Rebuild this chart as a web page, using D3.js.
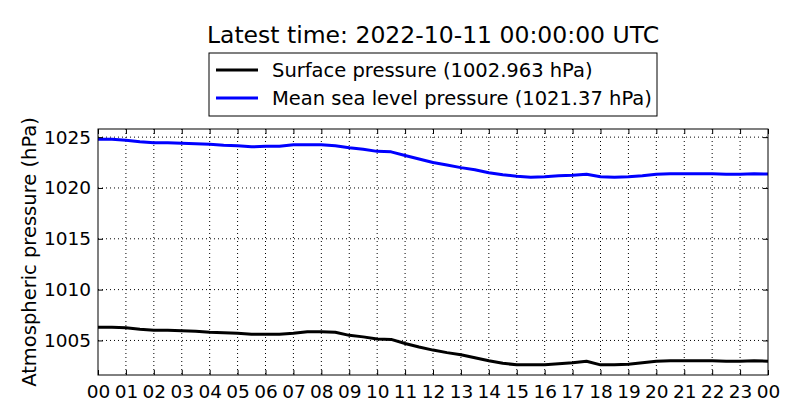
<!DOCTYPE html>
<html lang="en">
<head>
    <meta charset="UTF-8">
    <title>Atmospheric pressure</title>
    <script src="https://d3js.org/d3.v7.min.js"></script>
    <style>
        body { margin: 0; background: #fff; }
        svg text { font-family: "DejaVu Sans", sans-serif; fill: #000; }
    </style>
</head>
<body>
    <div id="chart-container"></div>

    <script>
        // hours since 2022-10-10 00:00 UTC, half-hourly readings
        const hours = d3.range(0, 24.5, 0.5);
        const surface = [
            1006.3, 1006.3, 1006.25, 1006.1, 1006.0, 1006.0, 1005.95, 1005.9,
            1005.8, 1005.75, 1005.7, 1005.6, 1005.6, 1005.6, 1005.7, 1005.85,
            1005.85, 1005.8, 1005.5, 1005.35, 1005.15, 1005.1, 1004.7, 1004.35,
            1004.05, 1003.8, 1003.6, 1003.3, 1003.0, 1002.75, 1002.6, 1002.6,
            1002.6, 1002.7, 1002.8, 1002.95, 1002.6, 1002.6, 1002.65, 1002.8,
            1002.95, 1003.0, 1003.0, 1003.0, 1003.0, 1002.95, 1002.95, 1003.0, 1002.963
        ];
        const msl = [
            1024.8, 1024.8, 1024.7, 1024.55, 1024.45, 1024.45, 1024.4, 1024.35,
            1024.3, 1024.2, 1024.15, 1024.05, 1024.1, 1024.1, 1024.25, 1024.25,
            1024.25, 1024.15, 1023.95, 1023.8, 1023.6, 1023.55, 1023.2, 1022.85,
            1022.5, 1022.25, 1022.0, 1021.8, 1021.5, 1021.3, 1021.15, 1021.05,
            1021.1, 1021.2, 1021.25, 1021.35, 1021.1, 1021.05, 1021.1, 1021.2,
            1021.35, 1021.4, 1021.4, 1021.4, 1021.4, 1021.35, 1021.35, 1021.4, 1021.37
        ];
        const hourTicks = d3.range(0, 25, 1);
        const pressureTicks = [1005, 1010, 1015, 1020, 1025];
        const seriesNames = ["Surface pressure (1002.963 hPa)", "Mean sea level pressure (1021.37 hPa)"];
        const seriesColors = ["#000000", "#0000ff"];

        const containerWidth = 800;
        const containerHeight = 420;
        const margins = { top: 129, right: 32, bottom: 45, left: 98 };
        const width = containerWidth - margins.left - margins.right;
        const height = containerHeight - margins.top - margins.bottom;

        const svg = d3.select("#chart-container")
            .append("svg")
            .attr("width", containerWidth)
            .attr("height", containerHeight);

        const g = svg.append("g")
            .attr("transform", `translate(${margins.left},${margins.top})`);

        const x = d3.scaleLinear().domain([0, 24]).range([0, width]);
        const yMin = d3.min(surface) - 1;
        const yMax = d3.max(msl) + 1;
        const y = d3.scaleLinear().domain([yMin, yMax]).range([height, 0]);

        // dotted grid
        g.append("g")
            .selectAll("line")
            .data(hourTicks.slice(1, -1))
            .join("line")
            .attr("x1", d => x(d)).attr("x2", d => x(d))
            .attr("y1", 0).attr("y2", height)
            .attr("stroke", "#000").attr("stroke-width", 1)
            .attr("stroke-dasharray", "1,3");
        g.append("g")
            .selectAll("line")
            .data(pressureTicks)
            .join("line")
            .attr("x1", 0).attr("x2", width)
            .attr("y1", d => y(d)).attr("y2", d => y(d))
            .attr("stroke", "#000").attr("stroke-width", 1)
            .attr("stroke-dasharray", "1,3");

        // lines
        const line = d3.line()
            .x((d, i) => x(hours[i]))
            .y(d => y(d));

        [surface, msl].forEach((s, i) => {
            g.append("path")
                .datum(s)
                .attr("fill", "none")
                .attr("stroke", seriesColors[i])
                .attr("stroke-width", 3)
                .attr("stroke-linejoin", "round")
                .attr("d", line);
        });

        // axes, classic inward ticks on every side
        const xAxis = d3.axisBottom(x)
            .tickValues(hourTicks)
            .tickFormat(d => String(d % 24).padStart(2, "0"))
            .tickSize(-5).tickPadding(10);
        const yAxis = d3.axisLeft(y)
            .tickValues(pressureTicks)
            .tickFormat(d3.format("d"))
            .tickSize(-5).tickPadding(7);

        g.append("g")
            .attr("transform", `translate(0,${height})`)
            .call(xAxis)
            .call(a => a.select(".domain").remove())
            .selectAll("text").style("font-size", "18.5px");
        g.append("g")
            .call(yAxis)
            .call(a => a.select(".domain").remove())
            .selectAll("text").style("font-size", "18.5px");
        g.append("g")
            .call(d3.axisTop(x).tickValues(hourTicks).tickSize(-5).tickFormat(""))
            .call(a => a.select(".domain").remove());
        g.append("g")
            .attr("transform", `translate(${width},0)`)
            .call(d3.axisRight(y).tickValues(pressureTicks).tickSize(-5).tickFormat(""))
            .call(a => a.select(".domain").remove());

        g.append("rect")
            .attr("width", width).attr("height", height)
            .attr("fill", "none").attr("stroke", "#000").attr("stroke-width", 1);

        // y label
        svg.append("text")
            .attr("transform", `translate(36,${margins.top + height / 2}) rotate(-90)`)
            .attr("text-anchor", "middle")
            .style("font-size", "19.5px")
            .text("Atmospheric pressure (hPa)");

        // title
        svg.append("text")
            .attr("x", 433)
            .attr("y", 43)
            .attr("text-anchor", "middle")
            .style("font-size", "23.5px")
            .text("Latest time: 2022-10-11 00:00:00 UTC");

        // legend
        const legend = svg.append("g").attr("transform", "translate(209,53)");
        legend.append("rect")
            .attr("width", 448).attr("height", 63)
            .attr("fill", "#fff").attr("stroke", "#000").attr("stroke-width", 1);
        seriesNames.forEach((name, i) => {
            legend.append("line")
                .attr("x1", 7).attr("x2", 49)
                .attr("y1", 17 + i * 28).attr("y2", 17 + i * 28)
                .attr("stroke", seriesColors[i]).attr("stroke-width", 3);
            legend.append("text")
                .attr("x", 63)
                .attr("y", 24 + i * 28)
                .style("font-size", "19.5px")
                .text(name);
        });
    </script>
</body>
</html>
